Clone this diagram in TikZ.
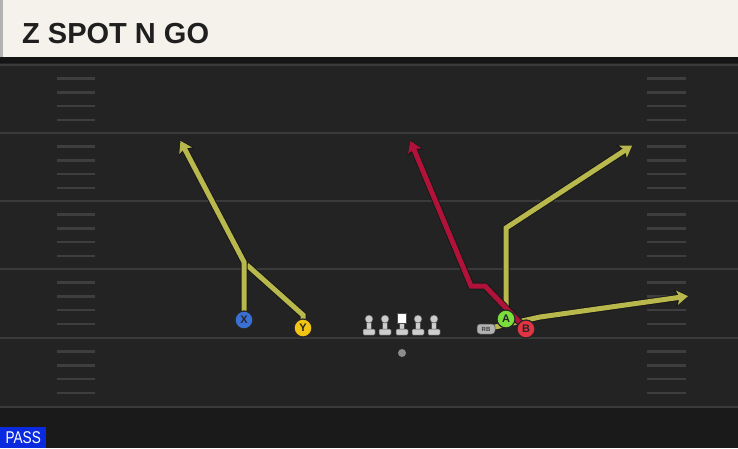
\documentclass[tikz,border=0pt]{standalone}
\usepackage{fontspec}
\setmainfont{Liberation Sans}
\usetikzlibrary{arrows.meta}
\definecolor{field}{RGB}{35,35,35}
\definecolor{header}{RGB}{244,242,235}
\definecolor{yard}{RGB}{58,58,58}
\definecolor{hash}{RGB}{62,62,62}
\definecolor{routeyel}{RGB}{184,184,76}
\definecolor{routered}{RGB}{176,18,58}
\definecolor{xblue}{RGB}{58,112,214}
\definecolor{yyel}{RGB}{242,196,20}
\definecolor{agreen}{RGB}{122,222,60}
\definecolor{bred}{RGB}{226,52,66}
\definecolor{oline}{RGB}{205,205,205}
\definecolor{passblue}{RGB}{10,42,224}
\pgfdeclarelayer{turf}
\pgfdeclarelayer{routes}
\pgfsetlayers{turf,routes,main}

\begin{document}
\begin{tikzpicture}[x=1pt,y=-1pt,
  player/.style={circle,draw=black!85,line width=1.2pt,minimum size=18pt,inner sep=0pt,
    font=\bfseries\fontsize{11}{11}\selectfont,text=black!85},
  route/.style={line width=5pt,draw=#1,shorten >=1pt,
    -{Stealth[length=11pt,width=14pt,inset=2.5pt]},
    preaction={draw=black!90,line width=7pt,shorten >=0pt,
      -{Stealth[length=14pt,width=17pt,inset=3pt]}}},
  route/.default=routeyel,
  lead/.style={line width=5pt,draw=routeyel,
    preaction={draw=black!90,line width=7pt}},
  man/.style={fill=oline,draw=black!70,line width=0.5pt}]

\useasboundingbox (0,0) rectangle (738,448);

\begin{pgfonlayer}{turf}
\fill [field] (0,0) rectangle (738,448);
\fill [black!25!field] (0,407) rectangle (738,448);
\fill [black!40!field] (0,57) rectangle (738,63);
\fill [header] (0,0) rectangle (738,57);
\fill [black!30] (0,0) rectangle (2.5,57);
% field lines
\foreach \y in {65,133,201,269,338,407}
  \draw [yard,line width=2.5pt] (0,\y) -- (738,\y);
\foreach \y in {65,133,201,269,338}
  \foreach \k in {1,2,3,4} {
    \draw [hash,line width=2.5pt] (57,\y+13.7*\k) -- (95,\y+13.7*\k);
    \draw [hash,line width=2.5pt] (647,\y+13.7*\k) -- (686,\y+13.7*\k);
  }
\end{pgfonlayer}

\node [anchor=base west,inner sep=0pt,text=black!88,
  font=\bfseries\fontsize{29}{29}\selectfont] (title) at (22,43) {Z SPOT N GO};

% players
\node [player,fill=xblue] (X) at (244,320) {X};
\node [player,fill=yyel] (Y) at (303,328) {Y};
\node [player,fill=agreen] (A) at (506,319) {A};
\node [player,fill=bred] (B) at (526,329) {B};
\node [fill=black!30,draw=black!70,line width=0.5pt,rounded corners=3pt,minimum width=18pt,
  minimum height=10pt,inner sep=0pt,text=black!75,
  font=\bfseries\fontsize{6}{6}\selectfont] (RB) at (486,329) {RB};
\coordinate (qb) at (402,353);

% route points
\coordinate (x1) at (244,262);
\coordinate (xe) at (180,140);
\coordinate (y1) at (303,315);
\coordinate (y2) at (247,265);
\coordinate (a1) at (506,228);
\coordinate (ae) at (633,145);
\coordinate (b1) at (485,286);
\coordinate (b2) at (471,286);
\coordinate (be) at (410,140);
\coordinate (r1) at (540,317);
\coordinate (re) at (689,296);

\begin{pgfonlayer}{routes}
\draw [lead] (Y.center) -- (y1) -- (y2);
\draw [route] (X.center) -- (x1) -- (xe);
\draw [route] (RB.center) -- (r1) -- (re);
\draw [route] (A.center) -- (a1) -- (ae);
\draw [route=routered] (B.center) -- (b1) -- (b2) -- (be);
\end{pgfonlayer}

% line
\foreach \n/\x in {lt/369,lg/385,c/402,rg/418,rt/434}
  \coordinate (\n) at (\x,322);
\foreach \n in {lt,lg,c,rg,rt} {
  \fill [man] ([shift={(-2.5,-3)}]\n) rectangle ([shift={(2.5,7)}]\n);
  \fill [man,rounded corners=1pt] ([shift={(-6,7)}]\n) rectangle ([shift={(6,13)}]\n);
}
\foreach \n in {lt,lg,rg,rt}
  \fill [man] ([shift={(0,-3)}]\n) circle (4);
\fill [man,fill=white] ([shift={(-4.5,-9)}]c) rectangle ([shift={(4.5,1)}]c);
\fill [black!45] (qb) circle (4);

\node [fill=passblue,anchor=south west,minimum width=46pt,minimum height=21pt,inner sep=0pt,
  text=white,font=\fontsize{17}{17}\selectfont] (pass) at (0,448) {\scalebox{0.8}[1]{PASS}};
\end{tikzpicture}
\end{document}
